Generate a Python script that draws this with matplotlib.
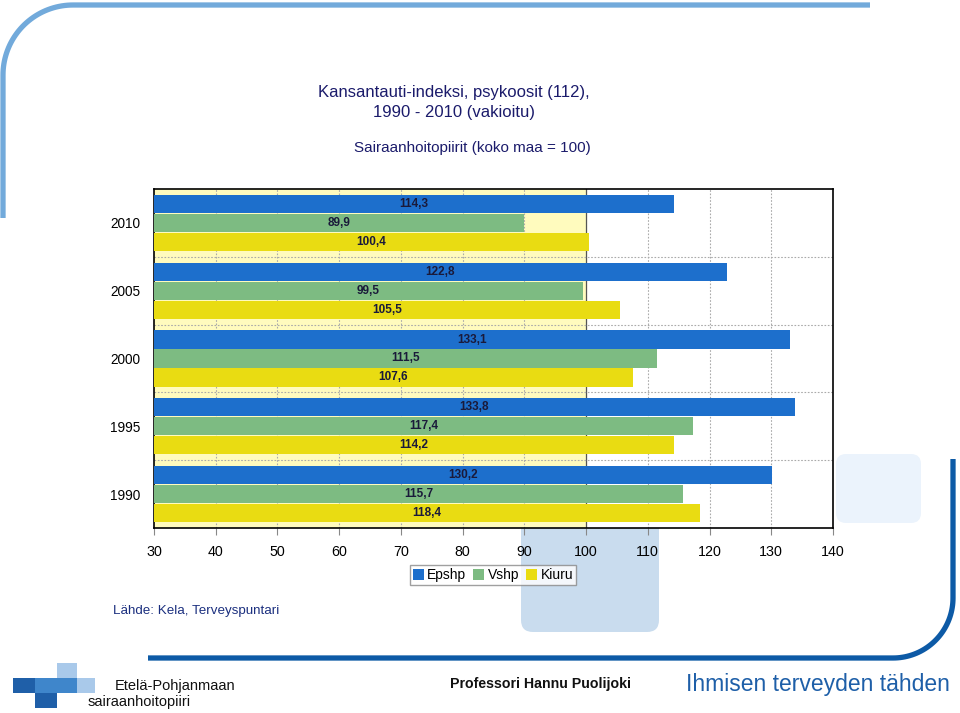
"""
Kansantauti-indeksi, psykoosit (112), 1990 - 2010 (vakioitu).

Horizontal grouped bar chart of three hospital districts per year,
drawn on top of the slide decoration of the original presentation.
"""

import numpy as np
import matplotlib
matplotlib.use("Agg")
import matplotlib.pyplot as plt
from matplotlib.patches import FancyBboxPatch, Rectangle

YEARS = ["2010", "2005", "2000", "1995", "1990"]
SERIES = ["Epshp", "Vshp", "Kiuru"]
EPSHP = [114.3, 122.8, 133.1, 133.8, 130.2]
VSHP = [89.9, 99.5, 111.5, 117.4, 115.7]
KIURU = [100.4, 105.5, 107.6, 114.2, 118.4]
X_TICKS = [30, 40, 50, 60, 70, 80, 90, 100, 110, 120, 130, 140]

COLORS = ["#1D6FCC", "#7DBB82", "#E9DC12"]
NAVY = "#1B1B6B"

plt.rcParams["font.family"] = ["Liberation Sans", "DejaVu Sans"]


def draw_slide(fig):
    """Background decoration of the slide (pixel coordinates)."""
    bg = fig.add_axes([0, 0, 1, 1], zorder=0)
    bg.set_xlim(0, 960)
    bg.set_ylim(713, 0)
    bg.axis("off")

    # top-left light blue frame line
    t = np.linspace(np.pi, 1.5 * np.pi, 40)
    xs = np.concatenate([[3], 73 + 70 * np.cos(t), [870]])
    ys = np.concatenate([[218], 75 + 70 * np.sin(t), [5]])
    bg.plot(xs, ys, color="#72AADB", lw=3.8, solid_capstyle="butt")

    # bottom-right dark blue frame line
    t = np.linspace(0, 0.5 * np.pi, 40)
    xs = np.concatenate([[953], 893 + 60 * np.cos(t), [148]])
    ys = np.concatenate([[459], 598 + 60 * np.sin(t), [658]])
    bg.plot(xs, ys, color="#0D5AA6", lw=3.8, solid_capstyle="butt")

    bg.add_patch(FancyBboxPatch((533, 452), 114, 168,
                                boxstyle="round,pad=12", fc="#C9DCEE", ec="none"))
    bg.add_patch(FancyBboxPatch((846, 464), 65, 49,
                                boxstyle="round,pad=10", fc="#EBF3FC", ec="none"))

    # logo
    for (x, y, w, h, c) in [
        (13, 678, 22, 15, "#1F5FA8"),
        (35, 678, 22, 15, "#3F86CB"),
        (57, 678, 20, 15, "#3F86CB"),
        (77, 678, 18, 15, "#A9C9EA"),
        (57, 663, 20, 15, "#A9C9EA"),
        (35, 693, 22, 15, "#1F5FA8"),
    ]:
        bg.add_patch(Rectangle((x, y), w, h, fc=c, ec="none"))

    bg.text(115, 686, "Etelä-Pohjanmaan", fontsize=10.5,
            color="#111111", va="center", ha="left")
    bg.text(88, 702, "sairaanhoitopiiri", fontsize=10.5,
            color="#111111", va="center", ha="left")
    bg.text(450, 684, "Professori Hannu Puolijoki", fontsize=10.2,
            fontweight="bold", color="#111111", va="center", ha="left")
    bg.text(686, 684, "Ihmisen terveyden tähden", fontsize=16.5,
            color="#1E5FA8", va="center", ha="left")


def main() -> None:
    fig = plt.figure(figsize=(9.6, 7.13), dpi=100)
    draw_slide(fig)

    ax = fig.add_axes([0.1604, 0.2595, 0.7073, 0.4754], zorder=2)
    ax.set_facecolor("white")
    ax.axvspan(30, 100, color="#FFFBBE", zorder=0)

    y = np.arange(len(YEARS))
    offsets = [-0.28, 0.0, 0.28]
    for vals, off, color, name in zip([EPSHP, VSHP, KIURU], offsets, COLORS, SERIES):
        widths = np.array(vals) - 30
        ax.barh(y + off, widths, left=30, height=0.27, color=color,
                label=name, zorder=3)
        for yi, v in zip(y, vals):
            ax.text((30 + v) / 2, yi + off, f"{v:.1f}".replace(".", ","),
                    ha="center", va="center", fontsize=8.5, fontweight="bold",
                    color="#1A1A3A", zorder=4)

    ax.set_xlim(30, 140)
    ax.set_ylim(len(YEARS) - 0.5, -0.5)
    ax.set_xticks(X_TICKS)
    ax.set_xticklabels([str(t) for t in X_TICKS], fontsize=10.3)
    ax.set_yticks(y)
    ax.set_yticklabels(YEARS, fontsize=9.8)
    ax.tick_params(axis="y", length=0, pad=10)
    ax.tick_params(axis="x", length=5, color="#888888", pad=7, direction="out")

    for xv in X_TICKS[1:-1]:
        if xv == 100:
            ax.axvline(xv, color="#555555", lw=0.9, zorder=1)
        else:
            ax.axvline(xv, color="#AAAAAA", lw=0.8, ls=(0, (1.5, 1.5)), zorder=1)
    for yv in np.arange(0.5, len(YEARS) - 0.5):
        ax.axhline(yv, color="#AAAAAA", lw=0.8, ls=(0, (1.5, 1.5)), zorder=1)

    for sp in ax.spines.values():
        sp.set_linewidth(1.2)
        sp.set_color("black")

    fig.legend(loc="center", bbox_to_anchor=(0.5135, 0.1935), ncol=3,
               fontsize=10, frameon=True, fancybox=False, edgecolor="#888888",
               handlelength=0.8, handleheight=0.8, handletextpad=0.25,
               columnspacing=0.5, borderpad=0.2, borderaxespad=0)

    fig.text(454 / 960, 1 - 93 / 713, "Kansantauti-indeksi, psykoosit (112),",
             ha="center", va="center", fontsize=12, color=NAVY)
    fig.text(454 / 960, 1 - 113 / 713, "1990 - 2010 (vakioitu)",
             ha="center", va="center", fontsize=12, color=NAVY)
    fig.text(472 / 960, 1 - 148 / 713, "Sairaanhoitopiirit (koko maa = 100)",
             ha="center", va="center", fontsize=11, color=NAVY)
    fig.text(113 / 960, 1 - 611 / 713, "Lähde: Kela, Terveyspuntari",
             ha="left", va="center", fontsize=9.6, color="#1B2F7F")

    fig.savefig("out.png", dpi=100)
    plt.close(fig)


if __name__ == "__main__":
    main()
